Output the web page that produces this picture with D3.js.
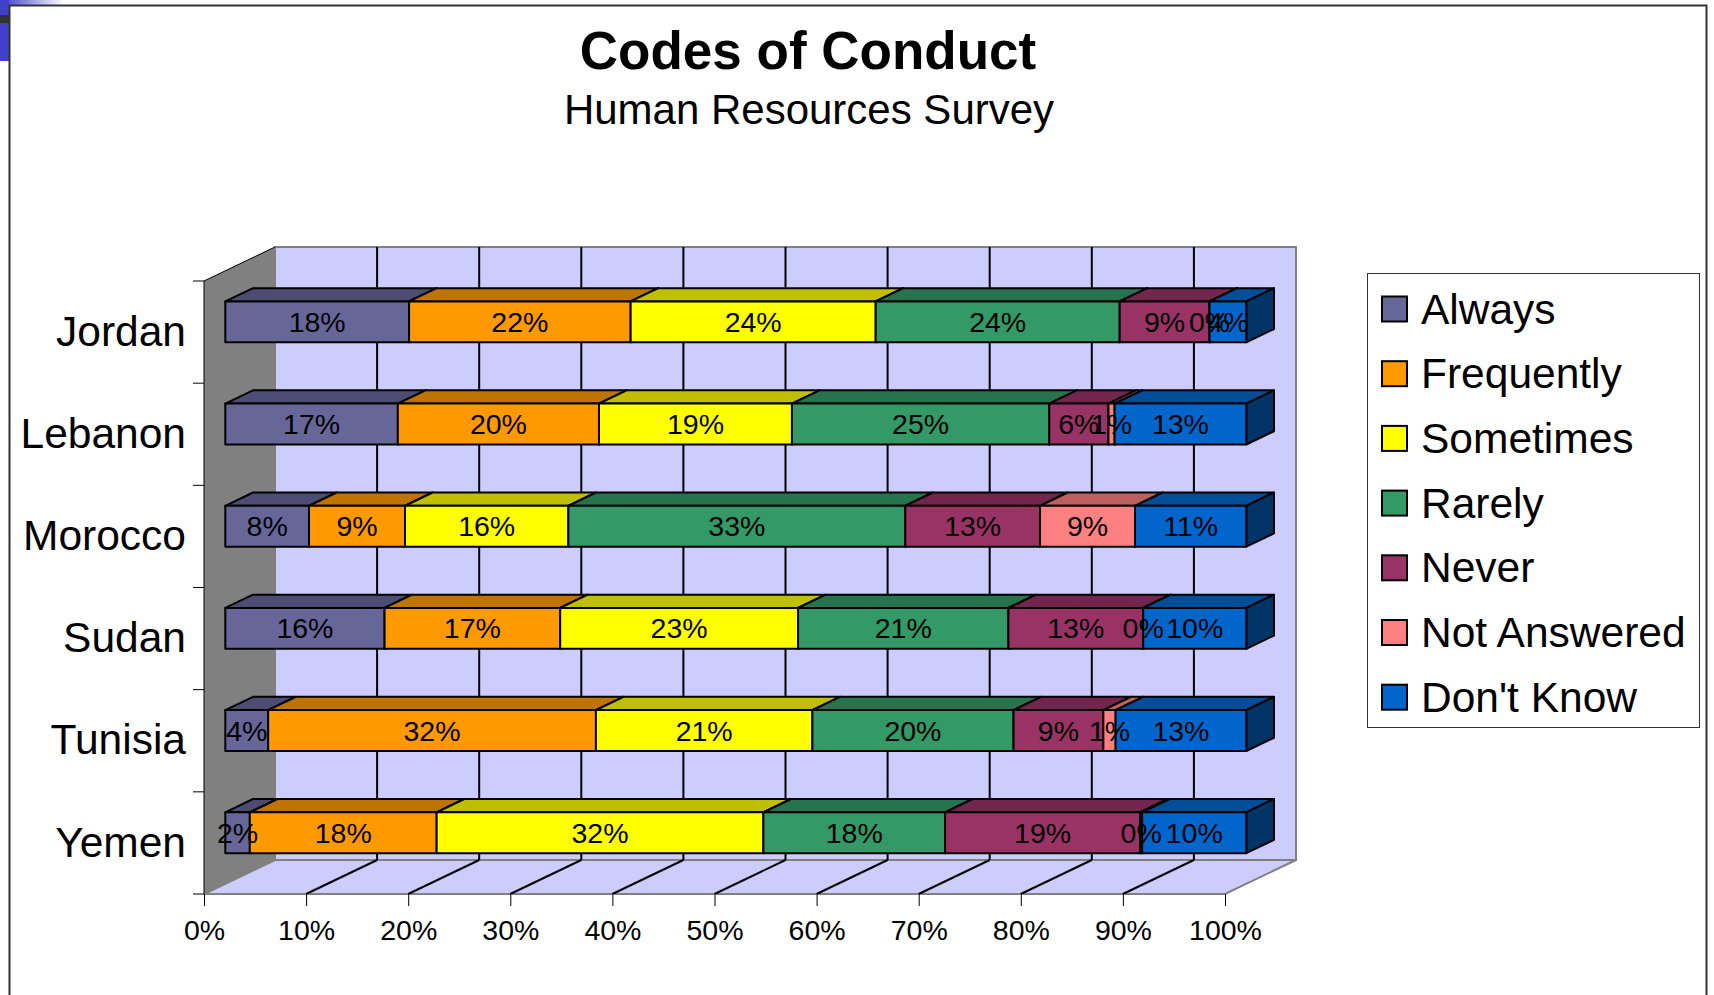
<!DOCTYPE html>
<meta charset="utf-8">
<head>
  <script src="https://d3js.org/d3.v7.min.js"></script>
  <style>
    body { margin: 0; background: #fff; }
    svg { display: block; font-family: "Liberation Sans", Arial, sans-serif; }
  </style>
  <title>Codes of Conduct</title>
</head>
<body>
<div id="my_dataviz"></div>
<script>

// countries, top to bottom
var countries = ["Jordan", "Lebanon", "Morocco", "Sudan", "Tunisia", "Yemen"];
var answers = ["Always", "Frequently", "Sometimes", "Rarely", "Never", "Not Answered", "Don't Know"];
var colors = ["#666699", "#FF9900", "#FFFF00", "#339966", "#993366", "#FF8080", "#0066CC"];

// share of answers in % per country
var always      = [18,   16.9,  8.2, 15.6,  4.2,  2.4];
var frequently  = [21.7, 19.7,  9.4, 17.2, 32.1, 18.3];
var sometimes   = [24,   18.9, 16.0, 23.3, 21.2, 32.0];
var rarely      = [23.9, 25.2, 33.0, 20.6, 19.7, 17.8];
var never       = [8.8,   5.8, 13.2, 13.2,  8.8, 19.1];
var notAnswered = [0,     0.6,  9.3,  0,    1.2,  0.2];
var dontKnow    = [3.6,  12.9, 10.9, 10.1, 12.8, 10.2];

var xTicks = [0, 0.1, 0.2, 0.3, 0.4, 0.5, 0.6, 0.7, 0.8, 0.9, 1];

var series = [always, frequently, sometimes, rarely, never, notAnswered, dontKnow];

// one row per country for d3.stack
var rows = countries.map(function (c, i) {
  var r = { country: c };
  answers.forEach(function (a, j) { r[a] = series[j][i]; });
  return r;
});

var stacked = d3.stack()
  .keys(answers)
  .offset(d3.stackOffsetExpand)(rows);

var width = 1714, height = 995;

// 3d box: depth offset of the back wall
var dX = 71, dY = -34;
// bars sit between these fractions of the depth
var f1 = 0.3, f2 = 0.69;

var x = d3.scaleLinear().domain([0, 1]).range([204, 1225]);
var y = d3.scaleBand()
  .domain(countries)
  .range([281, 894])
  .paddingInner(0.6)
  .paddingOuter(0.3);

var y0 = y.range()[0], y1 = y.range()[1];

function shade(c, k) {
  var r = d3.rgb(c);
  return d3.rgb(r.r * k, r.g * k, r.b * k).toString();
}

var svg = d3.select("#my_dataviz")
  .append("svg")
  .attr("width", width)
  .attr("height", height);

// little slide decoration in the corner
var grad = svg.append("defs").append("linearGradient").attr("id", "corner");
grad.append("stop").attr("offset", "0%").attr("stop-color", "#3a3acc");
grad.append("stop").attr("offset", "100%").attr("stop-color", "#ffffff");
svg.append("rect").attr("x", 0).attr("y", 0).attr("width", 64).attr("height", 5).attr("fill", "url(#corner)");
svg.append("rect").attr("x", 0).attr("y", 0).attr("width", 9).attr("height", 61).attr("fill", "#4040cc");
svg.append("rect").attr("x", 0).attr("y", 15).attr("width", 9).attr("height", 8).attr("fill", "#333");

// chart border
svg.append("rect")
  .attr("x", 9.5).attr("y", 5.5)
  .attr("width", 1697).attr("height", 1000)
  .attr("fill", "none")
  .attr("stroke", "#333")
  .attr("stroke-width", 2);

// titles
svg.append("text")
  .attr("x", 808).attr("y", 69)
  .attr("text-anchor", "middle")
  .style("font-size", "53px")
  .style("font-weight", "bold")
  .text("Codes of Conduct");

svg.append("text")
  .attr("x", 809).attr("y", 124)
  .attr("text-anchor", "middle")
  .style("font-size", "42px")
  .text("Human Resources Survey");

// walls
svg.append("rect")
  .attr("x", x(0) + dX).attr("y", y0 + dY)
  .attr("width", x(1) - x(0)).attr("height", y1 - y0)
  .attr("fill", "#CCCCFF")
  .attr("stroke", "#808080")
  .attr("stroke-width", 2);

svg.append("polygon")
  .attr("points", [[x(0), y0], [x(0) + dX, y0 + dY], [x(0) + dX, y1 + dY], [x(0), y1]].join(" "))
  .attr("fill", "#808080");

svg.append("line")
  .attr("x1", x(0)).attr("y1", y0)
  .attr("x2", x(0) + dX).attr("y2", y0 + dY)
  .attr("stroke", "#000").attr("stroke-width", 1);

svg.append("polygon")
  .attr("points", [[x(0), y1], [x(0) + dX, y1 + dY], [x(1) + dX, y1 + dY], [x(1), y1]].join(" "))
  .attr("fill", "#CCCCFF")
  .attr("stroke", "#808080")
  .attr("stroke-width", 2);

// gridlines on back wall and floor
var inner = xTicks.slice(1, -1);
svg.selectAll("gridback")
  .data(inner)
  .enter()
  .append("line")
  .attr("x1", function (d) { return x(d) + dX; })
  .attr("x2", function (d) { return x(d) + dX; })
  .attr("y1", y0 + dY)
  .attr("y2", y1 + dY)
  .attr("stroke", "#000")
  .attr("stroke-width", 2);

svg.selectAll("gridfloor")
  .data(inner)
  .enter()
  .append("line")
  .attr("x1", function (d) { return x(d); })
  .attr("x2", function (d) { return x(d) + dX; })
  .attr("y1", y1)
  .attr("y2", y1 + dY)
  .attr("stroke", "#000")
  .attr("stroke-width", 2);

// X axis
var xAxis = svg.append("g")
  .attr("transform", "translate(0," + y1 + ")")
  .call(d3.axisBottom(x).tickValues(xTicks).tickFormat(d3.format(".0%")).tickSize(12).tickPadding(14));
xAxis.select(".domain").attr("stroke", "#808080");
xAxis.selectAll(".tick line").attr("stroke", "#000");
xAxis.selectAll("text")
  .style("font-size", "28.5px")
  .style("font-family", "'Liberation Sans', Arial, sans-serif")
  .attr("fill", "#000");

// Y axis
var yAxis = svg.append("g")
  .attr("transform", "translate(" + x(0) + ",0)")
  .call(d3.axisLeft(y).tickSize(0).tickPadding(18));
yAxis.select(".domain").remove();
yAxis.selectAll("text")
  .style("font-size", "42.5px")
  .style("font-family", "'Liberation Sans', Arial, sans-serif")
  .attr("fill", "#000");

svg.append("line")
  .attr("x1", x(0)).attr("x2", x(0))
  .attr("y1", y0).attr("y2", y1)
  .attr("stroke", "#000").attr("stroke-width", 1);

svg.selectAll("ytick")
  .data(d3.range(countries.length + 1))
  .enter()
  .append("line")
  .attr("x1", x(0) - 11).attr("x2", x(0))
  .attr("y1", function (i) { return y0 + i * y.step(); })
  .attr("y2", function (i) { return y0 + i * y.step(); })
  .attr("stroke", "#000").attr("stroke-width", 1);

// 3d bars
var ox = f1 * dX, oy = f1 * dY, bx = f2 * dX, by = f2 * dY;
var bw = y.bandwidth();

stacked.forEach(function (layer, j) {
  var g = svg.append("g")
    .attr("stroke", "#000")
    .attr("stroke-width", 2)
    .attr("stroke-linejoin", "round");

  layer.forEach(function (d) {
    var a = x(d[0]), b = x(d[1]), t = y(d.data.country);
    g.append("polygon")
      .attr("points", [[a + ox, t + oy], [b + ox, t + oy], [b + bx, t + by], [a + bx, t + by]].join(" "))
      .attr("fill", shade(colors[j], 0.75));
    g.append("polygon")
      .attr("points", [[b + ox, t + oy], [b + bx, t + by], [b + bx, t + bw + by], [b + ox, t + bw + oy]].join(" "))
      .attr("fill", shade(colors[j], 0.5));
    g.append("rect")
      .attr("x", a + ox).attr("y", t + oy)
      .attr("width", b - a).attr("height", bw)
      .attr("fill", colors[j]);
  });
});

// value labels
var fmt = d3.format(".0%");
stacked.forEach(function (layer) {
  svg.selectAll("lbl")
    .data(layer)
    .enter()
    .append("text")
    .attr("x", function (d) { return (x(d[0]) + x(d[1])) / 2 + ox; })
    .attr("y", function (d) { return y(d.data.country) + oy + bw / 2; })
    .attr("text-anchor", "middle")
    .attr("dominant-baseline", "central")
    .style("font-size", "28.5px")
    .text(function (d) { return fmt(d[1] - d[0]); });
});

// legend
var legend = svg.append("g");
legend.append("rect")
  .attr("x", 1367.5).attr("y", 273.5)
  .attr("width", 332).attr("height", 454)
  .attr("fill", "#fff")
  .attr("stroke", "#333")
  .attr("stroke-width", 1);

var items = legend.selectAll("item")
  .data(answers)
  .enter()
  .append("g")
  .attr("transform", function (d, i) { return "translate(1382," + (309 + i * 64.7) + ")"; });

items.append("rect")
  .attr("x", 0).attr("y", -12.5)
  .attr("width", 25).attr("height", 25)
  .attr("fill", function (d, i) { return colors[i]; })
  .attr("stroke", "#000")
  .attr("stroke-width", 2);

items.append("text")
  .attr("x", 39)
  .attr("y", 0)
  .attr("dominant-baseline", "central")
  .style("font-size", "42.5px")
  .text(function (d) { return d; });

</script>
</body>
